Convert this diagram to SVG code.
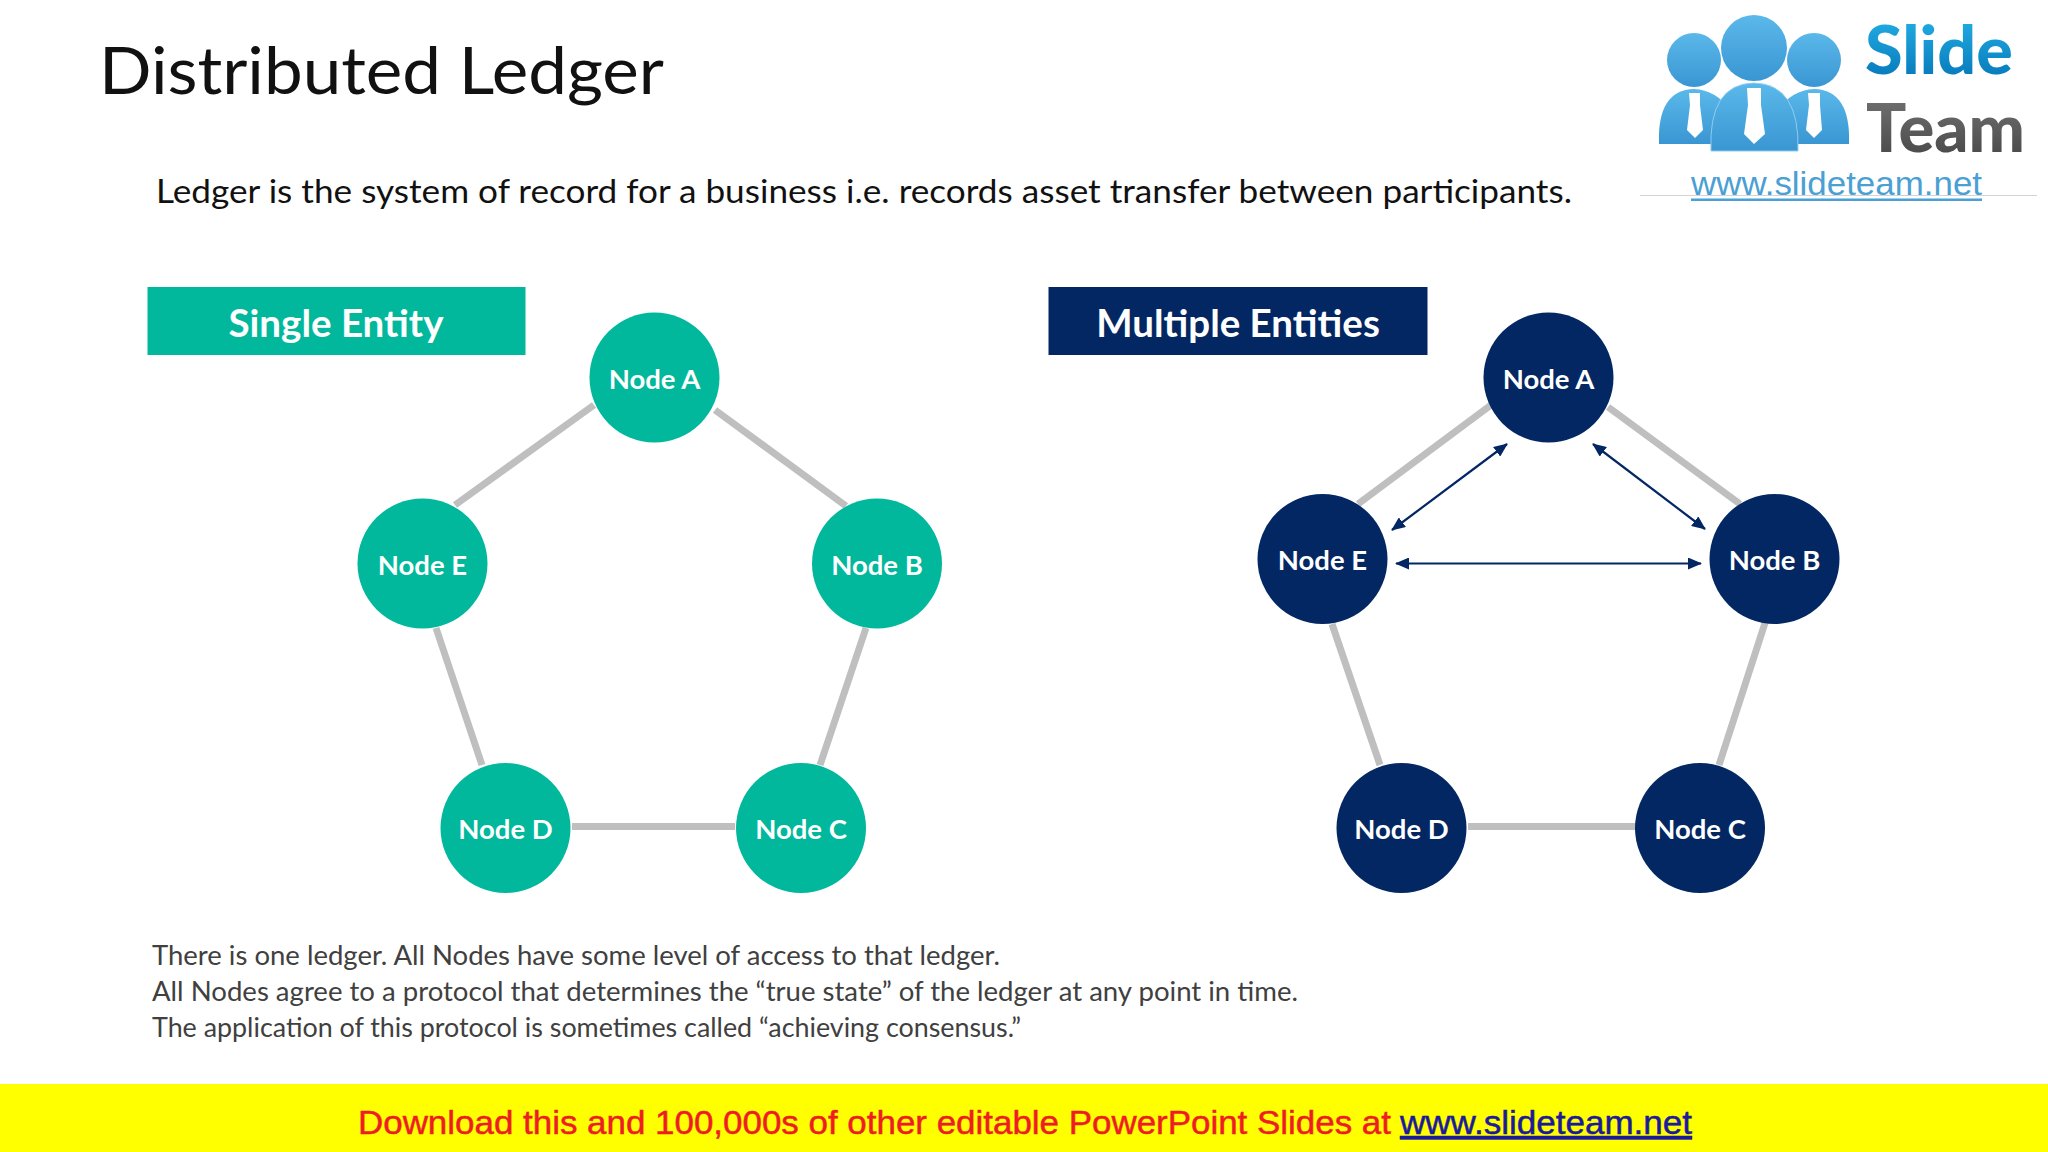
<svg xmlns="http://www.w3.org/2000/svg" width="2048" height="1152" viewBox="0 0 2048 1152">
<style>
text{font-family:"Lato","Open Sans",sans-serif}
.n{font-size:27.500px;font-weight:700;fill:#fff;text-anchor:middle}
.t{fill:#02b89c}.d{fill:#032763}
.l{stroke:#bfbfbf;stroke-width:7;fill:none}
.a{stroke:#032763;stroke-width:2.2;fill:none;marker-start:url(#as);marker-end:url(#ae)}
.b{font-size:38.500px;font-weight:700;fill:#fff;text-anchor:middle}
.p{font-size:26px;fill:#404040}
.body{fill:url(#bl)}
.tie{fill:#fff}
.sans{font-family:"Liberation Sans",sans-serif}
</style>
<defs>
<marker id="ae" markerWidth="14" markerHeight="12" refX="13" refY="6" orient="auto" markerUnits="userSpaceOnUse"><path d="M0 0L14 6L0 12Z" fill="#032763"/></marker>
<marker id="as" markerWidth="14" markerHeight="12" refX="1" refY="6" orient="auto" markerUnits="userSpaceOnUse"><path d="M14 0L0 6L14 12Z" fill="#032763"/></marker>
<linearGradient id="bl" x1="0" y1="0" x2="0" y2="1"><stop offset="0" stop-color="#5bb8ea"/><stop offset="1" stop-color="#3a96d2"/></linearGradient>
<linearGradient id="sl" x1="0" y1="0" x2="0" y2="1"><stop offset="0" stop-color="#27b4ea"/><stop offset="1" stop-color="#0272b4"/></linearGradient>
<linearGradient id="te" x1="0" y1="0" x2="0" y2="1"><stop offset="0" stop-color="#777"/><stop offset="1" stop-color="#444"/></linearGradient>
</defs>
<rect width="2048" height="1152" fill="#fff"/>
<text x="99" y="94" font-size="66" fill="#111" textLength="565" lengthAdjust="spacingAndGlyphs">Distributed Ledger</text>
<text x="156" y="203" font-size="33" fill="#111" textLength="1416" lengthAdjust="spacingAndGlyphs">Ledger is the system of record for a business i.e. records asset transfer between participants.</text>

<g id="logo">
<circle class="body" cx="1694" cy="60" r="27"/><circle class="body" cx="1814" cy="60" r="27"/><circle class="body" cx="1754" cy="48" r="33"/>
<path class="body" d="M1659 144Q1657 90 1694 89Q1716 90 1730 110L1730 144Z"/>
<path class="body" d="M1849 144Q1851 90 1814 89Q1792 90 1778 110L1778 144Z"/>
<path class="body" d="M1711 151Q1708 84 1754 83Q1800 84 1798 151Z" stroke="#8fcdf0" stroke-width="1"/>
<path class="tie" d="M1689 93H1700V105L1703 130L1695 138L1687 130L1690 105Z"/>
<path class="tie" d="M1747 88H1761V105L1765 134L1754 144L1744 134L1748 105Z"/>
<path class="tie" d="M1808 93H1820V105L1822 130L1814 138L1806 130L1809 105Z"/>
<text x="1865" y="74" font-size="66" font-weight="900" fill="url(#sl)" textLength="148" lengthAdjust="spacingAndGlyphs">Slide</text>
<text x="1866" y="152" font-size="66" font-weight="900" fill="url(#te)" textLength="159" lengthAdjust="spacingAndGlyphs">Team</text>
<rect x="1640" y="195" width="397" height="1" fill="#d4d4d4"/>
<text class="sans" x="1691" y="195" font-size="33" fill="#4a9fd4" textLength="291" lengthAdjust="spacingAndGlyphs">www.slideteam.net</text>
<rect x="1691" y="198.500" width="291" height="2.500" fill="#4a9fd4"/>
</g>

<g id="connectors">
<path class="l" d="M594 405L455 505M715 410L846 506M866 628L820 765M436 628L482 765M572 826.500H735"/>
<path class="l" d="M1491 405L1358 504M1608 407L1740 504M1765 623L1719 765M1332 624L1380 765M1468 826.500H1636"/>
<path class="a" d="M1507 444L1392 530"/>
<path class="a" d="M1593 444L1705 529"/>
<path class="a" d="M1396 563.500H1701"/>
</g>

<g id="banner-single"><rect class="t" x="147.500" y="287" width="378" height="68"/><text class="b" x="336" y="337">Single Entity</text></g>
<g id="banner-multiple"><rect class="d" x="1048.500" y="287" width="379" height="68"/><text class="b" x="1238" y="337">Multiple Entities</text></g>

<g id="s-a"><circle class="t" cx="654.500" cy="377.500" r="65"/><text class="n" x="654.500" y="389">Node A</text></g>
<g id="s-b"><circle class="t" cx="877" cy="563.500" r="65"/><text class="n" x="877" y="575">Node B</text></g>
<g id="s-c"><circle class="t" cx="801" cy="828" r="65"/><text class="n" x="801" y="839">Node C</text></g>
<g id="s-d"><circle class="t" cx="505.500" cy="828" r="65"/><text class="n" x="505.500" y="839">Node D</text></g>
<g id="s-e"><circle class="t" cx="422.500" cy="563.500" r="65"/><text class="n" x="422.500" y="575">Node E</text></g>

<g id="m-a"><circle class="d" cx="1548.500" cy="377.500" r="65"/><text class="n" x="1548.500" y="389">Node A</text></g>
<g id="m-b"><circle class="d" cx="1774.500" cy="559" r="65"/><text class="n" x="1774.500" y="570">Node B</text></g>
<g id="m-c"><circle class="d" cx="1700" cy="828" r="65"/><text class="n" x="1700" y="839">Node C</text></g>
<g id="m-d"><circle class="d" cx="1401.500" cy="828" r="65"/><text class="n" x="1401.500" y="839">Node D</text></g>
<g id="m-e"><circle class="d" cx="1322.500" cy="559" r="65"/><text class="n" x="1322.500" y="570">Node E</text></g>

<text class="p" x="152" y="965" textLength="848" lengthAdjust="spacingAndGlyphs">There is one ledger. All Nodes have some level of access to that ledger.</text>
<text class="p" x="152" y="1001" textLength="1146" lengthAdjust="spacingAndGlyphs">All Nodes agree to a protocol that determines the “true state” of the ledger at any point in time.</text>
<text class="p" x="152" y="1037" textLength="869" lengthAdjust="spacingAndGlyphs">The application of this protocol is sometimes called “achieving consensus.”</text>

<g id="footer">
<rect x="0" y="1084" width="2048" height="68" fill="#ffff00"/>
<text class="sans" x="358" y="1134" font-size="34" fill="#ee1c25" stroke="#ee1c25" stroke-width=".5" textLength="1033" lengthAdjust="spacingAndGlyphs">Download this and 100,000s of other editable PowerPoint Slides at</text>
<text class="sans" x="1400" y="1134" font-size="34" fill="#1a1a9c" stroke="#1a1a9c" stroke-width=".5" text-decoration="underline" textLength="292" lengthAdjust="spacingAndGlyphs">www.slideteam.net</text>
</g>
</svg>
